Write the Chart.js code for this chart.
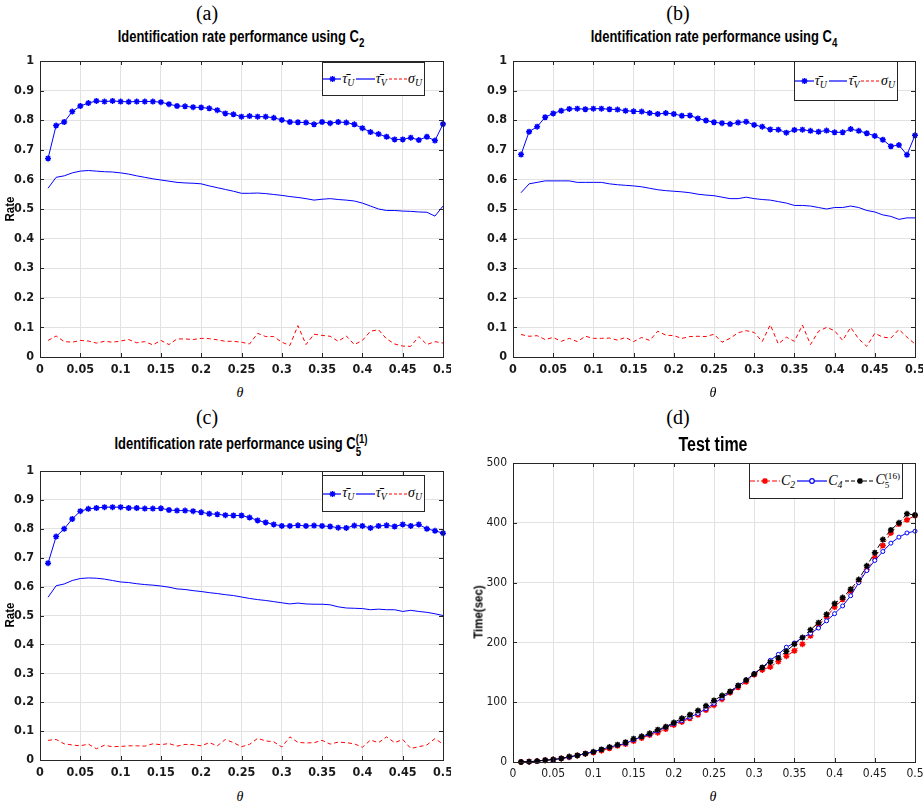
<!DOCTYPE html>
<html>
<head>
<meta charset="utf-8">
<script src="https://cdn.jsdelivr.net/npm/chart.js@4.4.1/dist/chart.umd.min.js"></script>
<style>
html, body { margin: 0; padding: 0; background: #fff; overflow: hidden; }
#page { position: relative; width: 923px; height: 806px; }
canvas { position: absolute; }
.txt { position: absolute; transform: translate(-50%, -50%); white-space: nowrap; color: #000; }
.plabel { font: 20px "Liberation Serif", "DejaVu Serif", serif; }
.title { font: bold 16px "Liberation Sans", Arial, sans-serif; transform: translate(-50%, -50%) scaleX(0.81); }
.big { font: bold 19.5px "Liberation Sans", Arial, sans-serif; transform: translate(-50%, -50%) scaleX(0.82); }
.ylab { font: bold 13.5px "Liberation Sans", Arial, sans-serif; transform: translate(-50%, -50%) rotate(-90deg) scaleX(0.85); }
.xlab { font: italic 14px "Liberation Serif", "DejaVu Serif", serif; }
.title sub { font-size: 75%; vertical-align: -5px; }
.ss { display: inline-flex; flex-direction: column; font-size: 75%; line-height: 1.05; vertical-align: 6px; }
.leg { position: absolute; border: 1px solid #262626; background: #fff; box-sizing: border-box;
       display: flex; align-items: center; justify-content: center;
       font: italic 14px "Liberation Serif", "DejaVu Serif", serif; white-space: nowrap; }
.leg svg { display: block; }
.leg .lab { margin: 0 2px 0 1px; }
.leg sub { font-size: 70%; vertical-align: -3px; }
.ss2 { display: inline-flex; flex-direction: column; font-size: 65%; line-height: 1; vertical-align: 5px; font-style: normal; }
</style>
</head>
<body>
<div id="page"></div>
<script>
// theta values (x axis)
const theta = [0.01, 0.02, 0.03, 0.04, 0.05, 0.06, 0.07, 0.08, 0.09, 0.10,
               0.11, 0.12, 0.13, 0.14, 0.15, 0.16, 0.17, 0.18, 0.19, 0.20,
               0.21, 0.22, 0.23, 0.24, 0.25, 0.26, 0.27, 0.28, 0.29, 0.30,
               0.31, 0.32, 0.33, 0.34, 0.35, 0.36, 0.37, 0.38, 0.39, 0.40,
               0.41, 0.42, 0.43, 0.44, 0.45, 0.46, 0.47, 0.48, 0.49, 0.50];

// (a) C2
const tauU_C2 = [0.671, 0.782, 0.794, 0.829, 0.848, 0.858, 0.865, 0.863, 0.865, 0.863,
                 0.862, 0.863, 0.863, 0.863, 0.861, 0.854, 0.848, 0.847, 0.844, 0.843,
                 0.840, 0.834, 0.823, 0.820, 0.812, 0.814, 0.812, 0.812, 0.808, 0.801,
                 0.794, 0.793, 0.792, 0.786, 0.794, 0.790, 0.794, 0.792, 0.786, 0.773,
                 0.760, 0.753, 0.744, 0.735, 0.735, 0.741, 0.733, 0.744, 0.731, 0.787];
const tauV_C2 = [0.570, 0.607, 0.612, 0.622, 0.628, 0.630, 0.628, 0.626, 0.625, 0.622,
                 0.618, 0.612, 0.607, 0.602, 0.598, 0.594, 0.590, 0.588, 0.587, 0.585,
                 0.578, 0.572, 0.566, 0.560, 0.553, 0.553, 0.554, 0.552, 0.549, 0.546,
                 0.542, 0.539, 0.535, 0.530, 0.533, 0.535, 0.532, 0.530, 0.527, 0.520,
                 0.510, 0.500, 0.495, 0.495, 0.493, 0.492, 0.490, 0.489, 0.476, 0.510];
const sigmaU_C2 = [0.056, 0.071, 0.052, 0.050, 0.056, 0.054, 0.047, 0.053, 0.050, 0.054,
                   0.059, 0.048, 0.052, 0.041, 0.056, 0.042, 0.061, 0.061, 0.059, 0.063,
                   0.062, 0.058, 0.053, 0.053, 0.050, 0.044, 0.080, 0.069, 0.069, 0.050,
                   0.039, 0.106, 0.042, 0.077, 0.073, 0.070, 0.053, 0.071, 0.042, 0.056,
                   0.087, 0.092, 0.061, 0.044, 0.037, 0.036, 0.069, 0.042, 0.052, 0.047];

// (b) C4
const tauU_C4 = [0.684, 0.761, 0.778, 0.810, 0.823, 0.832, 0.838, 0.839, 0.837, 0.839,
                 0.839, 0.837, 0.836, 0.832, 0.830, 0.829, 0.824, 0.821, 0.824, 0.821,
                 0.815, 0.816, 0.806, 0.799, 0.793, 0.790, 0.787, 0.792, 0.795, 0.784,
                 0.778, 0.769, 0.768, 0.758, 0.767, 0.768, 0.764, 0.761, 0.765, 0.759,
                 0.759, 0.770, 0.764, 0.756, 0.747, 0.734, 0.712, 0.716, 0.683, 0.749];
const tauV_C4 = [0.555, 0.585, 0.590, 0.595, 0.595, 0.595, 0.595, 0.590, 0.590, 0.590,
                 0.590, 0.585, 0.582, 0.580, 0.578, 0.575, 0.570, 0.565, 0.562, 0.560,
                 0.558, 0.555, 0.550, 0.547, 0.545, 0.540, 0.535, 0.535, 0.540, 0.535,
                 0.532, 0.530, 0.525, 0.520, 0.512, 0.512, 0.510, 0.505, 0.500, 0.505,
                 0.505, 0.510, 0.505, 0.495, 0.490, 0.480, 0.475, 0.465, 0.470, 0.470];
const sigmaU_C4 = [0.076, 0.070, 0.072, 0.059, 0.066, 0.053, 0.063, 0.052, 0.070, 0.063,
                   0.063, 0.064, 0.057, 0.066, 0.052, 0.066, 0.056, 0.087, 0.074, 0.072,
                   0.063, 0.069, 0.070, 0.069, 0.077, 0.050, 0.063, 0.082, 0.089, 0.083,
                   0.052, 0.109, 0.044, 0.067, 0.053, 0.108, 0.042, 0.087, 0.100, 0.089,
                   0.056, 0.100, 0.061, 0.036, 0.080, 0.067, 0.064, 0.093, 0.067, 0.044];

// (c) C5(1)
const tauU_C5 = [0.681, 0.773, 0.800, 0.834, 0.861, 0.869, 0.872, 0.875, 0.875, 0.875,
                 0.872, 0.872, 0.870, 0.870, 0.871, 0.865, 0.863, 0.863, 0.861, 0.857,
                 0.852, 0.850, 0.847, 0.846, 0.846, 0.839, 0.829, 0.822, 0.815, 0.810,
                 0.810, 0.812, 0.810, 0.811, 0.810, 0.808, 0.804, 0.803, 0.811, 0.810,
                 0.803, 0.810, 0.812, 0.808, 0.815, 0.810, 0.815, 0.800, 0.793, 0.785];
const tauV_C5 = [0.563, 0.603, 0.609, 0.621, 0.628, 0.630, 0.629, 0.626, 0.621, 0.616,
                 0.614, 0.610, 0.607, 0.605, 0.602, 0.598, 0.592, 0.590, 0.586, 0.583,
                 0.579, 0.576, 0.572, 0.569, 0.564, 0.559, 0.555, 0.552, 0.548, 0.544,
                 0.540, 0.543, 0.540, 0.539, 0.539, 0.537, 0.530, 0.526, 0.525, 0.524,
                 0.520, 0.522, 0.520, 0.520, 0.514, 0.518, 0.514, 0.511, 0.506, 0.500];
const sigmaU_C5 = [0.068, 0.071, 0.056, 0.052, 0.049, 0.055, 0.039, 0.051, 0.046, 0.047,
                   0.049, 0.049, 0.048, 0.056, 0.053, 0.057, 0.048, 0.054, 0.053, 0.049,
                   0.060, 0.049, 0.071, 0.060, 0.046, 0.054, 0.075, 0.066, 0.063, 0.045,
                   0.080, 0.061, 0.059, 0.060, 0.068, 0.055, 0.062, 0.060, 0.056, 0.044,
                   0.069, 0.060, 0.080, 0.060, 0.071, 0.040, 0.046, 0.052, 0.074, 0.055];

// (d) test time in seconds
const time_C2 = [0, 0.5, 1.5, 3, 4, 6, 8, 11, 14, 16,
                 19, 23, 27, 30, 35, 40, 45, 49, 55, 62,
                 67, 73, 79, 87, 95, 105, 116, 125, 134, 146,
                 154, 159, 168, 177, 186, 197, 211, 229, 243, 259,
                 272, 286, 302, 322, 342, 362, 383, 398, 405, 412];
const time_C4 = [0, 0.5, 1.5, 3, 4, 6, 8, 11, 14, 17,
                 21, 25, 28, 31, 37, 42, 46, 52, 58, 64,
                 69, 75, 81, 89, 98, 107, 117, 127, 137, 148,
                 158, 170, 180, 192, 199, 208, 215, 224, 236, 248,
                 261, 278, 300, 320, 337, 352, 366, 376, 383, 386];
const time_C5 = [0, 0.5, 1.5, 3, 4, 6, 9, 11, 14, 17,
                 21, 25, 29, 33, 39, 43, 48, 54, 59, 66,
                 73, 79, 86, 94, 103, 111, 118, 128, 137, 147,
                 158, 167, 174, 185, 197, 208, 221, 233, 247, 265,
                 275, 289, 305, 328, 350, 372, 388, 400, 415, 413];

const rateRange = { min: 0, max: 1, step: 0.1 };
const timeRange = { min: 0, max: 500, step: 100 };

const page = document.getElementById('page');
const narrow = '"DejaVu Sans Condensed", "Liberation Sans", sans-serif';

function pts(ys) {
    return theta.map((x, i) => ({ x: x, y: ys[i] }));
}

function fmt(v) {
    return String(Number(v.toFixed(2)));
}

// MATLAB style box with inward ticks on all four sides
const boxPlugin = {
    id: 'matlabBox',
    afterDraw(chart) {
        const { ctx, chartArea: a, scales } = chart;
        ctx.save();
        ctx.strokeStyle = '#262626';
        ctx.lineWidth = 1;
        ctx.beginPath();
        scales.x.ticks.forEach(t => {
            const px = Math.round(scales.x.getPixelForValue(t.value)) + 0.5;
            ctx.moveTo(px, a.bottom); ctx.lineTo(px, a.bottom - 4);
            ctx.moveTo(px, a.top); ctx.lineTo(px, a.top + 4);
        });
        scales.y.ticks.forEach(t => {
            const py = Math.round(scales.y.getPixelForValue(t.value)) + 0.5;
            ctx.moveTo(a.left, py); ctx.lineTo(a.left + 4, py);
            ctx.moveTo(a.right, py); ctx.lineTo(a.right - 4, py);
        });
        ctx.stroke();
        ctx.strokeRect(Math.round(a.left) + 0.5, Math.round(a.top) + 0.5,
                       Math.round(a.right - a.left), Math.round(a.bottom - a.top));
        ctx.restore();
    }
};

function makeChart(rect, datasets, yr, bold) {
    const padL = 44, padT = 10, padR = 8, padB = 26;
    const w = rect.r - rect.l + padL + padR;
    const h = rect.b - rect.t + padT + padB;
    const cv = document.createElement('canvas');
    cv.width = w; cv.height = h;
    cv.style.left = (rect.l - padL) + 'px';
    cv.style.top = (rect.t - padT) + 'px';
    cv.style.width = w + 'px';
    cv.style.height = h + 'px';
    page.appendChild(cv);

    const tickFont = { family: narrow, size: bold ? 12.5 : 12, weight: bold ? 'bold' : 'normal' };
    return new Chart(cv.getContext('2d'), {
        type: 'line',
        data: { datasets: datasets },
        options: {
            responsive: false,
            animation: false,
            devicePixelRatio: 1,
            layout: { padding: { left: 0, top: padT, right: padR, bottom: 0 } },
            plugins: { legend: { display: false }, tooltip: { enabled: false } },
            scales: {
                x: {
                    type: 'linear', min: 0, max: 0.5,
                    ticks: { stepSize: 0.05, font: tickFont, color: '#1a1a1a', padding: 5,
                             maxRotation: 0, autoSkip: false, callback: v => fmt(v) },
                    grid: { color: '#e2e2e2', drawTicks: false },
                    border: { display: false },
                    afterFit(s) { s.height = padB; s.paddingLeft = 0; s.paddingRight = 0; }
                },
                y: {
                    type: 'linear', min: yr.min, max: yr.max,
                    ticks: { stepSize: yr.step, font: tickFont, color: '#1a1a1a', padding: 6,
                             callback: v => fmt(v) },
                    grid: { color: '#e2e2e2', drawTicks: false },
                    border: { display: false },
                    afterFit(s) { s.width = padL; s.paddingTop = 0; s.paddingBottom = 0; }
                }
            }
        },
        plugins: [boxPlugin]
    });
}

function rateSets(tauU, tauV, sigmaU) {
    return [
        { label: 'tauU', data: pts(tauU), borderColor: '#0000ff', borderWidth: 1,
          pointStyle: 'star', pointRadius: 3, pointBorderWidth: 1.5,
          pointBorderColor: '#0000ff', pointBackgroundColor: '#0000ff', clip: false },
        { label: 'tauV', data: pts(tauV), borderColor: '#0000ff', borderWidth: 1, pointRadius: 0 },
        { label: 'sigmaU', data: pts(sigmaU), borderColor: '#ff0000', borderWidth: 1,
          borderDash: [4, 3], pointRadius: 0 }
    ];
}

// legend line sample as inline svg
function sample(s, w) {
    const dash = s.dash ? ` stroke-dasharray="${s.dash.join(' ')}"` : '';
    let svg = `<svg width="${w}" height="10"><line x1="0" y1="5" x2="${w}" y2="5" stroke="${s.color}" stroke-width="1.2"${dash}/>`;
    const c = w / 2;
    if (s.marker === 'star') {
        svg += `<path d="M${c - 3} 5H${c + 3}M${c} 2V8M${c - 2.2} 2.8L${c + 2.2} 7.2M${c + 2.2} 2.8L${c - 2.2} 7.2" stroke="${s.color}" stroke-width="1.4"/>`;
    } else if (s.marker === 'circle') {
        svg += `<circle cx="${c}" cy="5" r="2.3" fill="#fff" stroke="${s.color}" stroke-width="1.2"/>`;
    }
    return svg + '</svg>';
}

function legend(box, items, w) {
    const d = document.createElement('div');
    d.className = 'leg';
    d.style.left = box.x + 'px'; d.style.top = box.y + 'px';
    d.style.width = box.w + 'px'; d.style.height = box.h + 'px';
    d.innerHTML = items.map(it => sample(it, w) + `<span class="lab">${it.html}</span>`).join('');
    page.appendChild(d);
}

function text(cls, x, y, html) {
    const d = document.createElement('div');
    d.className = 'txt ' + cls;
    d.style.left = x + 'px'; d.style.top = y + 'px';
    d.innerHTML = html;
    page.appendChild(d);
}

const rateLegend = [
    { color: '#0000ff', marker: 'star', html: 'τ\u0304<sub>U</sub>' },
    { color: '#0000ff', html: 'τ\u0304<sub>V</sub>' },
    { color: '#ff0000', dash: [3, 2], html: 'σ<sub>U</sub>' }
];

// panels
const rectA = { l: 40, t: 61, r: 443, b: 357 };
const rectB = { l: 513, t: 61, r: 915, b: 357 };
const rectC = { l: 40, t: 471, r: 443, b: 760 };
const rectD = { l: 513, t: 463, r: 915, b: 762 };

makeChart(rectA, rateSets(tauU_C2, tauV_C2, sigmaU_C2), rateRange, true);
makeChart(rectB, rateSets(tauU_C4, tauV_C4, sigmaU_C4), rateRange, true);
makeChart(rectC, rateSets(tauU_C5, tauV_C5, sigmaU_C5), rateRange, true);
makeChart(rectD, [
    { label: 'C2', data: pts(time_C2), borderColor: '#ff0000', borderWidth: 1, borderDash: [6, 3, 2, 3],
      pointStyle: 'star', pointRadius: 3, pointBorderWidth: 1.5, pointBorderColor: '#ff0000', order: 2, clip: false },
    { label: 'C4', data: pts(time_C4), borderColor: '#0000ff', borderWidth: 1,
      pointStyle: 'circle', pointRadius: 2, pointBorderWidth: 1, pointBorderColor: '#0000ff',
      pointBackgroundColor: '#ffffff', order: 1, clip: false },
    { label: 'C5', data: pts(time_C5), borderColor: '#000000', borderWidth: 1, borderDash: [5, 3],
      pointStyle: 'star', pointRadius: 3, pointBorderWidth: 1.5, pointBorderColor: '#000000', order: 0, clip: false }
], timeRange, false);

legend({ x: 322, y: 62, w: 103, h: 34 }, rateLegend, 19);
legend({ x: 794, y: 61, w: 104, h: 40 }, rateLegend, 19);
legend({ x: 322, y: 475, w: 103, h: 37 }, rateLegend, 19);
legend({ x: 749, y: 463, w: 154, h: 36 }, [
    { color: '#ff0000', dash: [5, 2, 2, 2], marker: 'star', html: 'C<sub>2</sub>' },
    { color: '#0000ff', marker: 'circle', html: 'C<sub>4</sub>' },
    { color: '#000000', dash: [4, 2], marker: 'star', html: 'C<span class="ss2"><span>(16)</span><span>5</span></span>' }
], 30);

// labels and titles
text('plabel', 207, 13, '(a)');
text('plabel', 678, 13, '(b)');
text('plabel', 207, 417, '(c)');
text('plabel', 678, 417, '(d)');
text('title', 241, 39, 'Identification rate performance using C<sub>2</sub>');
text('title', 714, 39, 'Identification rate performance using C<sub>4</sub>');
text('title', 241, 446, 'Identification rate performance using C<span class="ss"><span>(1)</span><span>5</span></span>');
text('big', 713, 444, 'Test time');
text('ylab', 9, 209, 'Rate');
text('ylab', 9, 615, 'Rate');
text('ylab', 478, 612, 'Time(sec)');
text('xlab', 240, 393, 'θ');
text('xlab', 713, 393, 'θ');
text('xlab', 240, 797, 'θ');
text('xlab', 713, 797, 'θ');
</script>
</body>
</html>
